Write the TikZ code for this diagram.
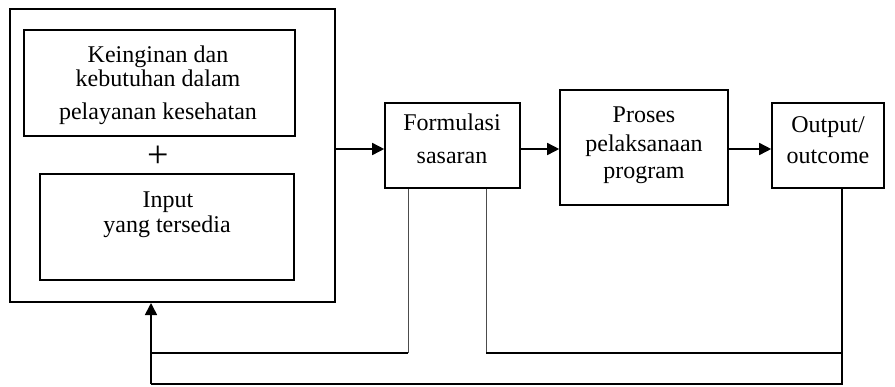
\documentclass[tikz,border=0pt]{standalone}
\usepackage{fontspec}
\setmainfont{Liberation Serif}
\usetikzlibrary{arrows.meta}
\begin{document}
\begin{tikzpicture}[x=0.5pt,y=-0.5pt,
  box/.style={draw, line width=0.8pt, inner sep=0pt},
  txt/.style={inner sep=0pt, anchor=base, font=\fontsize{12}{14}\selectfont},
  flow/.style={line width=0.8pt, -{Triangle[length=6pt,width=6pt]}},
  back/.style={line width=0.8pt},
  backthin/.style={line width=0.45pt, black!70}]
\useasboundingbox (0,0) rectangle (895,386);

% outer frame and its two inner blocks
\node[box, line width=1pt, minimum width=162.5pt, minimum height=146.5pt] (outer) at (172.5,155.5) {};
\node[box, minimum width=135.5pt, minimum height=53pt] (want) at (159.5,83) {};
\node[box, minimum width=127pt, minimum height=53pt] (input) at (167,227) {};

\node[txt] (w1) at (158,62) {Keinginan dan};
\node[txt] (w2) at (158,86) {kebutuhan dalam};
\node[txt] (w3) at (158,119) {pelayanan kesehatan};
\node[inner sep=0pt, font=\fontsize{19}{19}\selectfont] (plus) at (158,157) {+};
\node[txt] (i1) at (168,207) {Input};
\node[txt] (i2) at (167,232) {yang tersedia};

% process chain
\node[box, minimum width=67.5pt, minimum height=42.5pt] (form) at (452.5,145.5) {};
\node[box, minimum width=84pt, minimum height=57.5pt] (proses) at (644,147.5) {};
\node[box, minimum width=56pt, minimum height=42.5pt] (output) at (828,145.5) {};

\node[txt] (f1) at (452,130) {Formulasi};
\node[txt] (f2) at (452,163) {sasaran};
\node[txt] (p1) at (644,122) {Proses};
\node[txt] (p2) at (644,151) {pelaksanaan};
\node[txt] (p3) at (644,178) {program};
\node[txt] (o1) at (828,132) {Output/};
\node[txt] (o2) at (828,163) {outcome};

\draw[flow] (outer.east |- 0,149) -- (form.west |- 0,149);
\draw[flow] (form.east |- 0,149) -- (proses.west |- 0,149);
\draw[flow] (proses.east |- 0,149) -- (output.west |- 0,149);

% feedback loops
\coordinate (fbA) at (151,353);
\coordinate (fbB) at (151,384);
\coordinate (fa) at (408,0);
\coordinate (fb) at (486,0);
\coordinate (oc) at (842,0);
\draw[backthin] (form.south -| fa) -- (fa |- fbA);
\draw[back] (fa |- fbA) -- (fbA);
\draw[backthin] (form.south -| fb) -- (fb |- fbA);
\draw[back] (fb |- fbA) -- (oc |- fbA);
\draw[back] (output.south -| oc) -- (oc |- fbB) -- (fbB);
\draw[flow] (fbB) -- (outer.south -| fbB);
\end{tikzpicture}
\end{document}
